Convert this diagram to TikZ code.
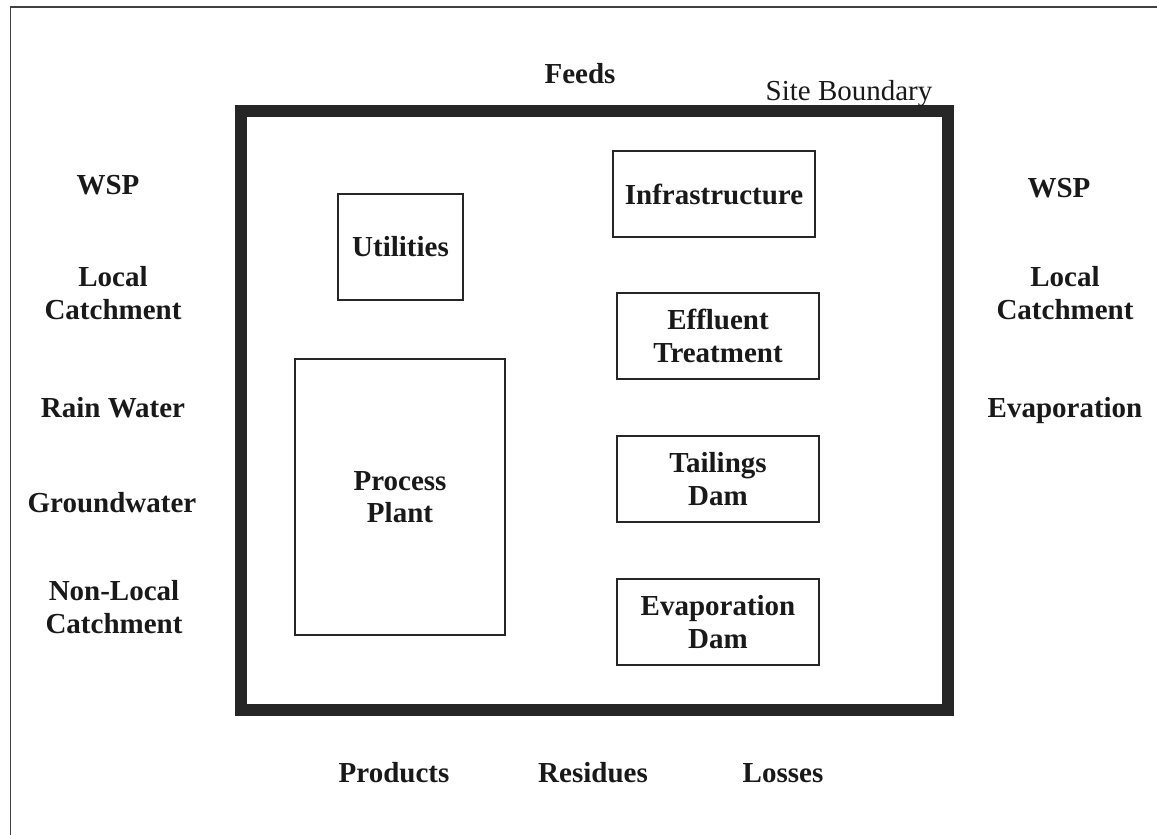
\documentclass[tikz,border=0pt]{standalone}
\usepackage{fontspec}
\setmainfont{Liberation Serif}
\begin{document}
\begin{tikzpicture}[x=1pt,y=-1pt,
  unitbox/.style={draw=black!85, line width=1.4pt, inner sep=0pt, font=\bfseries, align=center},
  lbl/.style={inner sep=0pt, font=\bfseries, align=center},
  every node/.append style={text=black!90}]
\fontsize{29}{32.5}\selectfont
\useasboundingbox (0,0) rectangle (1157,835);
% outer frame (only top and left visible)
\coordinate (fbl) at (10.5,835);
\coordinate (ftl) at (10.5,7);
\coordinate (ftr) at (1157,7);
\draw[line width=1.4pt, black!75] (fbl) -- (ftl) -- (ftr);
% site boundary
\node[draw=black!85, line width=12.5pt, minimum width=707pt, minimum height=599pt, inner sep=0pt] (site) at (594.5,410.5) {};
\node[inner sep=0pt, font=\fontsize{29}{32.5}\selectfont] (sitelbl) at (849,94) {Site Boundary};
\node[lbl] (feeds) at (580,74) {Feeds};
% inner units
\node[unitbox, minimum width=125pt, minimum height=106pt] (util) at (400.5,247) {Utilities};
\node[unitbox, minimum width=210pt, minimum height=276pt] (plant) at (400,497) {Process\\Plant};
\node[unitbox, minimum width=202pt, minimum height=86pt] (infra) at (714,194) {Infrastructure};
\node[unitbox, minimum width=202pt, minimum height=86pt] (eff) at (718,336) {Effluent\\Treatment};
\node[unitbox, minimum width=202pt, minimum height=86pt] (tail) at (718,479) {Tailings\\Dam};
\node[unitbox, minimum width=202pt, minimum height=86pt] (evdam) at (718,622) {Evaporation\\Dam};
% left column
\node[lbl] (wspl) at (108,185) {WSP};
\node[lbl] (lcl) at (113,293) {Local\\Catchment};
\node[lbl] (rain) at (113,408) {Rain Water};
\node[lbl] (gw) at (112,503) {Groundwater};
\node[lbl] (nlc) at (114,607) {Non-Local\\Catchment};
% right column
\node[lbl] (wspr) at (1059,188) {WSP};
\node[lbl] (lcr) at (1065,293) {Local\\Catchment};
\node[lbl] (evap) at (1065,411) {Evaporation};
% bottom
\node[lbl] (prod) at (394,773) {Products};
\node[lbl] (res) at (593,773) {Residues};
\node[lbl] (loss) at (783,773) {Losses};
\end{tikzpicture}
\end{document}
